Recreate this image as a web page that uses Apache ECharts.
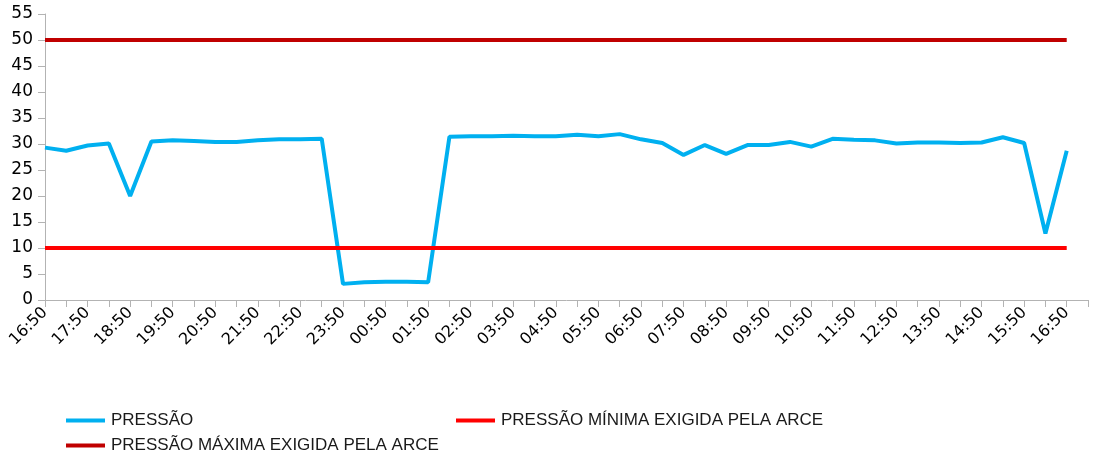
<!DOCTYPE html>
<html>
<head>
<meta charset="utf-8">
<title>Pressão</title>
<script src="https://cdn.jsdelivr.net/npm/echarts@6/dist/echarts.min.js"></script>
<style>
  html, body { margin: 0; padding: 0; background: #fff; }
  #chart { width: 1102px; height: 454px; }
</style>
</head>
<body>
<div id="chart"></div>
<script>
"use strict";

// horarios de 30 em 30 min (o ultimo fica vazio, só a marca no eixo)
var horas = [
  "16:50", "17:20", "17:50", "18:20", "18:50", "19:20", "19:50", "20:20", "20:50", "21:20",
  "21:50", "22:20", "22:50", "23:20", "23:50", "00:20", "00:50", "01:20", "01:50", "02:20",
  "02:50", "03:20", "03:50", "04:20", "04:50", "05:20", "05:50", "06:20", "06:50", "07:20",
  "07:50", "08:20", "08:50", "09:20", "09:50", "10:20", "10:50", "11:20", "11:50", "12:20",
  "12:50", "13:20", "13:50", "14:20", "14:50", "15:20", "15:50", "16:20", "16:50", ""
];

// pressão medida
var pressao = [
  29.3, 28.7, 29.7, 30.1, 20.0, 30.5, 30.7, 30.6, 30.4, 30.4,
  30.7, 30.9, 30.9, 31.0, 3.1, 3.4, 3.5, 3.5, 3.4, 31.4,
  31.5, 31.5, 31.6, 31.5, 31.5, 31.8, 31.5, 31.9, 30.9, 30.2,
  27.9, 29.8, 28.1, 29.8, 29.8, 30.4, 29.5, 31.0, 30.8, 30.7,
  30.1, 30.3, 30.3, 30.2, 30.3, 31.3, 30.2, 12.8, 28.7
];

// limites ARCE
var pressaoMinima = [
  10, 10, 10, 10, 10, 10, 10, 10, 10, 10,
  10, 10, 10, 10, 10, 10, 10, 10, 10, 10,
  10, 10, 10, 10, 10, 10, 10, 10, 10, 10,
  10, 10, 10, 10, 10, 10, 10, 10, 10, 10,
  10, 10, 10, 10, 10, 10, 10, 10, 10
];
var pressaoMaxima = [
  50, 50, 50, 50, 50, 50, 50, 50, 50, 50,
  50, 50, 50, 50, 50, 50, 50, 50, 50, 50,
  50, 50, 50, 50, 50, 50, 50, 50, 50, 50,
  50, 50, 50, 50, 50, 50, 50, 50, 50, 50,
  50, 50, 50, 50, 50, 50, 50, 50, 50
];

var nomes = ["PRESSÃO", "PRESSÃO MÍNIMA EXIGIDA PELA ARCE", "PRESSÃO MÁXIMA EXIGIDA PELA ARCE"];
var cores = ["#00b0f0", "#ff0000", "#c00000"];

var chart = echarts.init(document.getElementById("chart"));

function legenda(nome, left, top) {
  return {
    data: [nome],
    left: left,
    top: top,
    padding: 0,
    icon: "rect",
    itemWidth: 39,
    itemHeight: 4,
    itemGap: 0,
    selectedMode: false,
    textStyle: {
      fontFamily: "Liberation Sans",
      fontSize: 17,
      color: "#1a1a1a",
      padding: [0, 0, 0, 1]
    }
  };
}

var option = {
  animation: false,
  backgroundColor: "#ffffff",
  grid: {
    left: 45,
    right: 14,
    top: 14,
    bottom: 154
  },
  legend: [
    legenda(nomes[0], 66, 412),
    legenda(nomes[1], 456, 412),
    legenda(nomes[2], 66, 437)
  ],
  xAxis: {
    type: "category",
    boundaryGap: false,
    data: horas,
    axisLine: { lineStyle: { color: "#b3b3b3", width: 1 } },
    axisTick: { show: true, interval: 0, length: 7, lineStyle: { color: "#b3b3b3" } },
    axisLabel: {
      interval: 1,
      rotate: 45,
      margin: 10,
      fontFamily: "DejaVu Sans",
      fontSize: 16,
      color: "#000000"
    },
    splitLine: { show: false }
  },
  yAxis: {
    type: "value",
    min: 0,
    max: 55,
    interval: 5,
    axisLine: { show: true, lineStyle: { color: "#b3b3b3", width: 1 } },
    axisTick: { show: true, length: 7, lineStyle: { color: "#b3b3b3" } },
    axisLabel: {
      margin: 12,
      fontFamily: "DejaVu Sans",
      fontSize: 17,
      color: "#000000"
    },
    splitLine: { show: false }
  },
  series: [{
    name: nomes[0],
    type: "line",
    data: pressao,
    showSymbol: false,
    symbol: "none",
    color: cores[0],
    lineStyle: { color: cores[0], width: 4 }
  }, {
    name: nomes[1],
    type: "line",
    data: pressaoMinima,
    showSymbol: false,
    symbol: "none",
    color: cores[1],
    lineStyle: { color: cores[1], width: 4 }
  }, {
    name: nomes[2],
    type: "line",
    data: pressaoMaxima,
    showSymbol: false,
    symbol: "none",
    color: cores[2],
    lineStyle: { color: cores[2], width: 4 }
  }]
};

chart.setOption(option);
</script>
</body>
</html>
